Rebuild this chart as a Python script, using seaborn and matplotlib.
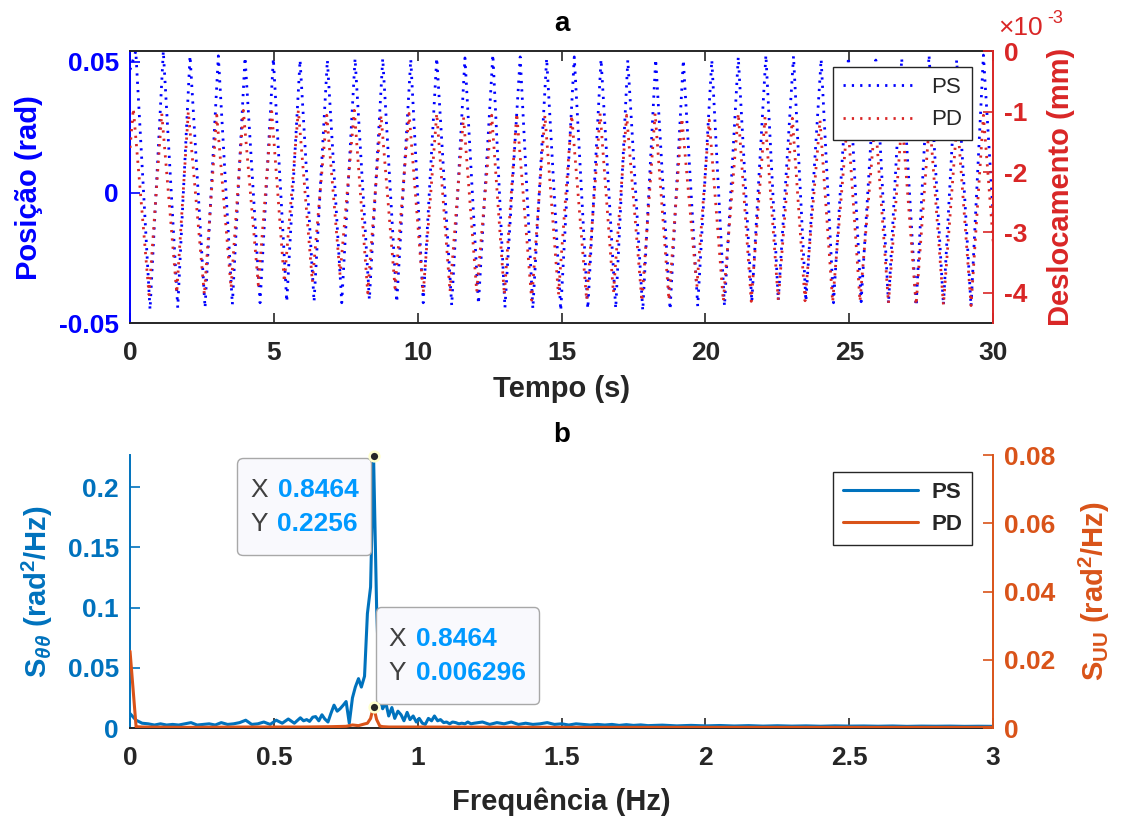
import numpy as np
import matplotlib
matplotlib.use('Agg')
import matplotlib.pyplot as plt
import seaborn as sns
from matplotlib.ticker import FuncFormatter
from matplotlib.offsetbox import TextArea, HPacker, VPacker, DrawingArea, AnnotationBbox

# Estilo geral (parecido com a figura do MATLAB)
sns.set_theme(style='ticks')
plt.rcParams['font.family'] = ['Liberation Sans', 'DejaVu Sans']
plt.rcParams['font.weight'] = 'bold'
plt.rcParams['axes.unicode_minus'] = False
plt.rcParams['mathtext.fontset'] = 'custom'
plt.rcParams['mathtext.rm'] = 'Liberation Sans:bold'
plt.rcParams['mathtext.it'] = 'Liberation Sans:italic:bold'
plt.rcParams['mathtext.bf'] = 'Liberation Sans:bold'

AZUL = '#0000FF'
VERMELHO = '#D92626'
AZUL2 = '#0072BD'
LARANJA = '#D95319'
PRETO = '#262626'

# ---------------- dados (a): pontos de retorno ----------------
# PS - posição (rad)
ps_tempo = [0.0, 0.20, 0.695, 1.157, 1.658, 2.085, 2.607, 3.069, 3.556, 3.997, 4.519,
            4.981, 5.447, 5.909, 6.396, 6.858, 7.358, 7.821, 8.318, 8.783, 9.270,
            9.757, 10.19, 10.66, 11.18, 11.64, 12.11, 12.61, 13.03, 13.56, 14.00,
            14.48, 14.97, 15.44, 15.91, 16.37, 16.88, 17.30, 17.82, 18.27, 18.77,
            19.23, 19.73, 20.22, 20.66, 21.14, 21.61, 22.10, 22.53, 23.06, 23.49,
            24.02, 24.45, 24.97, 25.41, 25.92, 26.36, 26.82, 27.32, 27.77, 28.27,
            28.73, 29.23, 29.66, 30.19]
ps_posicao = [0.0470, 0.0541, -0.0448, 0.0541, -0.0441, 0.0523, -0.0441, 0.0523, -0.0429, 0.0517, -0.0422,
              0.0513, -0.0418, 0.0507, -0.0418, 0.0507, -0.0422, 0.0513, -0.0410, 0.0513, -0.0420,
              0.0510, -0.0422, 0.0515, -0.0432, 0.0515, -0.0426, 0.0528, -0.0441, 0.0519, -0.0445,
              0.0513, -0.0452, 0.0519, -0.0445, 0.0510, -0.0444, 0.0507, -0.0452, 0.0510, -0.0448,
              0.0507, -0.0435, 0.0507, -0.0435, 0.0519, -0.0418, 0.0526, -0.0413, 0.0522, -0.0416,
              0.0510, -0.0422, 0.0519, -0.0418, 0.0507, -0.0426, 0.0513, -0.0435, 0.0526, -0.0431,
              0.0507, -0.0435, 0.0526, -0.0435]

# PD - deslocamento (x 1e-3 mm)
pd_tempo = [0.0, 0.115, 0.660, 1.102, 1.623, 2.026, 2.583, 3.014, 3.511, 3.938, 4.459,
            4.925, 5.363, 5.850, 6.337, 6.837, 7.299, 7.796, 8.262, 8.724, 9.211,
            9.698, 10.19, 10.66, 11.12, 11.59, 12.05, 12.57, 13.01, 13.44, 13.96,
            14.42, 14.89, 15.35, 15.87, 16.34, 16.80, 17.26, 17.79, 18.25, 18.73,
            19.18, 19.70, 20.13, 20.62, 21.14, 21.59, 22.07, 22.53, 23.02, 23.46,
            23.98, 24.42, 24.94, 25.37, 25.90, 26.36, 26.83, 27.32, 27.79, 28.27,
            28.75, 29.23, 29.66, 30.17]
pd_desloc_e3 = [-1.60, -0.95, -4.03, -1.03, -4.00, -1.00, -4.03, -1.06, -3.92, -0.98, -3.87,
                -1.00, -3.82, -0.98, -3.82, -1.06, -3.70, -0.98, -4.00, -1.06, -3.92,
                -1.03, -4.00, -1.03, -3.98, -1.09, -3.98, -1.06, -4.03, -1.03, -4.12,
                -1.06, -4.03, -1.06, -4.12, -1.03, -4.00, -1.06, -4.14, -1.03, -4.12,
                -1.11, -3.90, -1.14, -4.14, -1.03, -4.14, -1.09, -4.12, -1.11, -4.13,
                -1.14, -4.15, -1.12, -4.14, -1.12, -4.17, -1.12, -4.20, -1.12, -4.20,
                -1.12, -4.21, -1.06, -4.20]

# ---------------- dados (b): densidade espectral ----------------
ps_freq = [0.0, 0.021, 0.042, 0.063, 0.085, 0.106, 0.127, 0.148, 0.169, 0.190,
           0.212, 0.233, 0.254, 0.275, 0.296, 0.317, 0.339, 0.360, 0.381, 0.402,
           0.423, 0.444, 0.465, 0.487, 0.508, 0.529, 0.550, 0.571, 0.592,
           0.603, 0.614, 0.624, 0.635, 0.645, 0.656, 0.667, 0.677, 0.688, 0.698,
           0.709, 0.720, 0.730, 0.741, 0.751, 0.762, 0.773, 0.783, 0.794, 0.804,
           0.815, 0.825, 0.836, 0.8464, 0.857, 0.868, 0.878, 0.889, 0.899, 0.910,
           0.920, 0.931, 0.942, 0.952, 0.963, 0.973, 0.984, 0.995, 1.005, 1.016,
           1.026, 1.037, 1.048, 1.058, 1.069, 1.079, 1.090, 1.100, 1.111, 1.121,
           1.132, 1.143, 1.153, 1.164, 1.174, 1.185, 1.196,
           1.225, 1.250, 1.275, 1.300, 1.325, 1.350, 1.375, 1.400, 1.425, 1.450,
           1.475, 1.500, 1.525, 1.550, 1.575, 1.600, 1.625, 1.650, 1.675, 1.700,
           1.725, 1.750, 1.775, 1.800,
           1.85, 1.90, 1.95, 2.00, 2.05, 2.10, 2.15, 2.20, 2.25, 2.30, 2.35, 2.40,
           2.45, 2.50, 2.55, 2.60, 2.65, 2.70, 2.75, 2.80, 2.85, 2.90, 2.95, 3.00]
ps_psd = [0.012, 0.0065, 0.0040, 0.0035, 0.0025, 0.0035, 0.0025, 0.0030, 0.0025, 0.0035,
          0.0045, 0.0025, 0.0030, 0.0035, 0.0025, 0.0045, 0.0030, 0.0035, 0.0045, 0.0065,
          0.0030, 0.0035, 0.0050, 0.0030, 0.0065, 0.0040, 0.0075, 0.0040, 0.0085,
          0.0060, 0.0070, 0.0055, 0.0090, 0.0095, 0.0060, 0.0110, 0.0075, 0.0050, 0.0120,
          0.0190, 0.0140, 0.0160, 0.0190, 0.0220, 0.0040, 0.0250, 0.0340, 0.0410, 0.0340,
          0.0430, 0.0950, 0.1170, 0.2256, 0.1000, 0.0250, 0.0160, 0.0210, 0.0100, 0.0170,
          0.0080, 0.0140, 0.0110, 0.0060, 0.0130, 0.0070, 0.0100, 0.0050, 0.0080, 0.0040,
          0.0030, 0.0080, 0.0060, 0.0100, 0.0060, 0.0070, 0.0045, 0.0050, 0.0035, 0.0050,
          0.0045, 0.0035, 0.0040, 0.0035, 0.0050, 0.0035, 0.0040,
          0.0050, 0.0030, 0.0045, 0.0035, 0.0050, 0.0030, 0.0040, 0.0030, 0.0035, 0.0045,
          0.0030, 0.0035, 0.0025, 0.0035, 0.0030, 0.0025, 0.0030, 0.0025, 0.0030, 0.0022,
          0.0028, 0.0022, 0.0026, 0.0020,
          0.0024, 0.0018, 0.0022, 0.0018, 0.0021, 0.0017, 0.0020, 0.0016, 0.0019, 0.0016,
          0.0018, 0.0015, 0.0018, 0.0016, 0.0017, 0.0015, 0.0017, 0.0014, 0.0016, 0.0015,
          0.0016, 0.0014, 0.0015, 0.0014]

pd_freq = [0.0, 0.021, 0.042, 0.2, 0.4, 0.6, 0.7, 0.751, 0.773, 0.794, 0.815, 0.825,
           0.836, 0.8464, 0.857, 0.868, 0.878, 0.9, 1.0, 1.5, 2.0, 2.5, 3.0]
pd_psd = [0.0225, 0.0004, 0.0003, 0.0002, 0.0003, 0.0003, 0.0004, 0.0005, 0.0009, 0.0007,
          0.0012, 0.0014, 0.0028, 0.006296, 0.0025, 0.0006, 0.0004, 0.0003, 0.0003, 0.0002,
          0.0002, 0.0002, 0.0002]

pd_desloc = np.array(pd_desloc_e3) * 1e-3

# ---------------- figura ----------------
fig = plt.figure(figsize=(11.21, 8.16), dpi=100)
ax1 = fig.add_axes([0.116, 0.604, 0.770, 0.3333])
ax1r = ax1.twinx()
ax2 = fig.add_axes([0.116, 0.1078, 0.770, 0.3346])
ax2r = ax2.twinx()

pontilhado = (0, (0.8, 2.2))
sns.lineplot(x=ps_tempo, y=ps_posicao, ax=ax1, color=AZUL, lw=2.0, linestyle=pontilhado, errorbar=None)
sns.lineplot(x=pd_tempo, y=pd_desloc, ax=ax1r, color=VERMELHO, lw=2.0, linestyle=pontilhado, errorbar=None)
sns.lineplot(x=ps_freq, y=ps_psd, ax=ax2, color=AZUL2, lw=2.2, errorbar=None)
sns.lineplot(x=pd_freq, y=pd_psd, ax=ax2r, color=LARANJA, lw=2.2, errorbar=None)

fmt = FuncFormatter(lambda v, p: f'{v:g}')

# --- painel a ---
ax1.set_xlim(0, 30)
ax1.set_ylim(-0.05, 0.0541)
ax1r.set_ylim(-4.5e-3, 0)
ax1.set_xticks(range(0, 31, 5))
ax1.set_yticks([-0.05, 0, 0.05])
ax1r.set_yticks([-4e-3, -3e-3, -2e-3, -1e-3, 0])
ax1.xaxis.set_major_formatter(fmt)
ax1.yaxis.set_major_formatter(fmt)
ax1r.yaxis.set_major_formatter(FuncFormatter(lambda v, p: f'{v * 1e3:g}'))

ax1.set_xlabel('Tempo (s)', fontsize=21, fontweight='bold', color=PRETO)
ax1.set_ylabel('Posição (rad)', fontsize=21, fontweight='bold', color=AZUL)
ax1r.set_ylabel('Deslocamento (mm)', fontsize=21, fontweight='bold', color=VERMELHO)

# --- painel b ---
ax2.set_xlim(0, 3)
ax2.set_ylim(0, 0.2266)
ax2r.set_ylim(0, 0.08)
ax2.set_xticks([0, 0.5, 1, 1.5, 2, 2.5, 3])
ax2.set_yticks([0, 0.05, 0.1, 0.15, 0.2])
ax2r.set_yticks([0, 0.02, 0.04, 0.06, 0.08])
for a in (ax2, ax2r):
    a.xaxis.set_major_formatter(fmt)
    a.yaxis.set_major_formatter(fmt)

ax2.set_xlabel('Frequência (Hz)', fontsize=21, fontweight='bold', color=PRETO)
ax2.set_ylabel(r'S$_{\theta\theta}$ (rad$^{2}$/Hz)', fontsize=21, fontweight='bold', color=AZUL2)
ax2r.set_ylabel(r'S$_{\mathrm{UU}}$ (rad$^{2}$/Hz)', fontsize=21, fontweight='bold', color=LARANJA)

# ticks e eixos
for a, cor_y in ((ax1, AZUL), (ax1r, VERMELHO), (ax2, AZUL2), (ax2r, LARANJA)):
    a.tick_params(axis='y', direction='in', length=7, width=1.2, colors=cor_y, labelsize=19, pad=8)
    for s in a.spines.values():
        s.set_linewidth(1.4)
ax1.tick_params(axis='x', direction='in', length=7, width=1.2, colors=PRETO, labelsize=19, pad=13, top=True, bottom=True)
ax2.tick_params(axis='x', direction='in', length=7, width=1.2, colors=PRETO, labelsize=19, pad=13, top=False, bottom=True)

ax1.spines['left'].set_color(AZUL)
ax1.spines['top'].set_color(PRETO)
ax1.spines['bottom'].set_color(PRETO)
ax1.spines['right'].set_visible(False)
ax1r.spines['right'].set_color(VERMELHO)
for s in ('left', 'top', 'bottom'):
    ax1r.spines[s].set_visible(False)

ax2.spines['left'].set_color(AZUL2)
ax2.spines['bottom'].set_color(PRETO)
ax2.spines['top'].set_visible(False)
ax2.spines['right'].set_visible(False)
ax2r.spines['right'].set_color(LARANJA)
for s in ('left', 'top', 'bottom'):
    ax2r.spines[s].set_visible(False)

# posição dos rótulos
ax1.yaxis.set_label_coords(-0.1008, 0.5)
ax1r.yaxis.set_label_coords(1.0626, 0.5)
ax2.yaxis.set_label_coords(-0.0869, 0.5)
ax2r.yaxis.set_label_coords(1.0973, 0.5)
ax1.xaxis.set_label_coords(0.5, -0.19)
ax2.xaxis.set_label_coords(0.5, -0.216)

# fator de escala do eixo direito
fig.text(998 / 1121, 1 - 35 / 816, '×10', color=VERMELHO, fontsize=19, fontweight='normal', ha='left', va='baseline')
fig.text(1047 / 1121, 1 - 23 / 816, '-3', color=VERMELHO, fontsize=13, fontweight='normal', ha='left', va='baseline')

# títulos
fig.text(0.5009, 1 - 24 / 816, 'a', fontsize=20, fontweight='bold', ha='center', va='center', color='black')
fig.text(0.5009, 1 - 435 / 816, 'b', fontsize=20, fontweight='bold', ha='center', va='center', color='black')

# legendas
leg1 = ax1r.legend(handles=[ax1.lines[0], ax1r.lines[0]], labels=['PS', 'PD'], loc='upper right',
                   bbox_to_anchor=(0.976, 0.941), fancybox=False, edgecolor=PRETO, framealpha=1,
                   prop={'size': 16, 'weight': 'normal'}, handlelength=3.4, handletextpad=0.6,
                   labelspacing=0.5, borderpad=0.45, borderaxespad=0)
leg1.get_frame().set_linewidth(1.0)
leg2 = ax2r.legend(handles=[ax2.lines[0], ax2r.lines[0]], labels=['PS', 'PD'], loc='upper right',
                   bbox_to_anchor=(0.976, 0.938), fancybox=False, edgecolor=PRETO, framealpha=1,
                   prop={'size': 16, 'weight': 'bold'}, handlelength=3.4, handletextpad=0.6,
                   labelspacing=0.5, borderpad=0.45, borderaxespad=0)
leg2.get_frame().set_linewidth(1.0)


# marcadores de dados (datatips)
def datatip(ax, x, y, align, off):
    linhas = []
    for nome, val in (('X', f'{x:.4g}'), ('Y', f'{y:.4g}')):
        linhas.append(HPacker(children=[TextArea(nome, textprops=dict(color='#404040', fontsize=19, fontweight='normal')),
                                        TextArea(val, textprops=dict(color='#0099FF', fontsize=19, fontweight='bold'))],
                              align='baseline', pad=0, sep=7))
    texto = VPacker(children=linhas, align='left', pad=0, sep=7.4)
    caixa = VPacker(children=[DrawingArea(1, 4.5), texto, DrawingArea(1, 4.5)], align='left', pad=9.5, sep=0)
    ab = AnnotationBbox(caixa, (x, y), xycoords='data', xybox=off, boxcoords='offset points',
                        box_alignment=align, frameon=True, fontsize=10,
                        bboxprops=dict(boxstyle='round,pad=0,rounding_size=0.4', fc='#F9F9FD', ec='#A8A8A8', lw=1.0))
    ab.set_zorder(10)
    ax.add_artist(ab)
    ax.plot([x], [y], 'o', ms=7, mfc='#262626', mec='#FFFFCC', mew=1.8, zorder=11, clip_on=False)


i_ps = int(np.argmax(ps_psd))
datatip(ax2, ps_freq[i_ps], ps_psd[i_ps], (1, 1), (-1.5, -1.5))
pd_f = np.array(pd_freq)
pd_s = np.where(pd_f > 0.5, pd_psd, 0)
i_pd = int(np.argmax(pd_s))
datatip(ax2r, pd_freq[i_pd], pd_psd[i_pd], (0, 0), (1.5, 1.5))

fig.savefig('out.png', dpi=100, facecolor='white')
